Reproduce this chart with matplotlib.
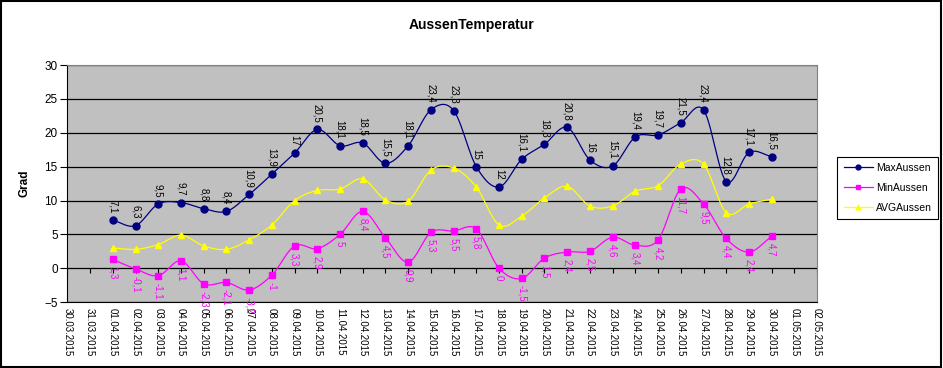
import numpy as np
import pandas as pd
import matplotlib
matplotlib.use('Agg')
import matplotlib.pyplot as plt
from matplotlib.patches import Rectangle

plt.rcParams['font.family'] = ['Liberation Sans', 'DejaVu Sans']

# axis dates 30.03.2015 .. 02.05.2015, data 01.04 .. 30.04
axis_dates = pd.date_range('2015-03-30', '2015-05-02', freq='D')
tick_labels = [d.strftime('%d.%m.%Y') for d in axis_dates]
data_dates = pd.date_range('2015-04-01', '2015-04-30', freq='D')

max_aussen = [7.1, 6.3, 9.5, 9.7, 8.8, 8.4, 10.9, 13.9, 17, 20.5, 18.1, 18.5, 15.5, 18.1, 23.4,
              23.3, 15, 12, 16.1, 18.3, 20.8, 16, 15.1, 19.4, 19.7, 21.5, 23.4, 12.8, 17.1, 16.5]
min_aussen = [1.3, -0.1, -1.1, 1.1, -2.3, -2.1, -3.2, -1, 3.3, 2.9, 5, 8.4, 4.5, 0.9, 5.3,
              5.5, 5.8, 0, -1.5, 1.5, 2.4, 2.5, 4.6, 3.4, 4.2, 11.7, 9.5, 4.4, 2.4, 4.7]
avg_aussen = [3.0, 2.8, 3.5, 4.9, 3.3, 2.8, 4.2, 6.4, 10.0, 11.5, 11.7, 13.2, 10.1, 9.9, 14.5,
              14.8, 12.0, 6.4, 7.7, 10.4, 12.1, 9.2, 9.2, 11.4, 12.2, 15.4, 15.4, 8.2, 9.5, 10.2]


def smooth(x, y, n=12):
    # Catmull-Rom curve through the points, like Excel's smoothed line
    x = np.asarray(x, float)
    y = np.asarray(y, float)
    px = np.concatenate([[2 * x[0] - x[1]], x, [2 * x[-1] - x[-2]]])
    py = np.concatenate([[2 * y[0] - y[1]], y, [2 * y[-1] - y[-2]]])
    t = np.linspace(0, 1, n, endpoint=False)
    xs, ys = [], []
    for i in range(1, len(px) - 2):
        for p, out in ((px, xs), (py, ys)):
            p0, p1, p2, p3 = p[i - 1], p[i], p[i + 1], p[i + 2]
            out.extend(0.5 * (2 * p1 + (-p0 + p2) * t + (2 * p0 - 5 * p1 + 4 * p2 - p3) * t ** 2
                              + (-p0 + 3 * p1 - 3 * p2 + p3) * t ** 3))
    xs.append(x[-1])
    ys.append(y[-1])
    return np.array(xs), np.array(ys)


def fmt(v):
    return ('%g' % v).replace('.', ',')


xpos = np.array([axis_dates.get_loc(d) for d in data_dates])
xall = np.arange(len(axis_dates))

fig = plt.figure(figsize=(9.43, 3.68), dpi=100)
ax = fig.add_axes([0.0715, 0.179, 0.795, 0.644])
ax.set_facecolor('#c0c0c0')

for yv in range(-5, 31, 5):
    ax.axhline(yv, color='black', lw=0.9, zorder=1)

series = [
    (max_aussen, '#000080', 'o', 5, 'MaxAussen'),
    (min_aussen, '#ff00ff', 's', 5, 'MinAussen'),
    (avg_aussen, '#ffff00', '^', 5, 'AVGAussen'),
]
for vals, col, mk, ms, lab in series:
    sx, sy = smooth(xpos, vals)
    ax.plot(sx, sy, color=col, lw=0.9, zorder=3)
    ax.plot(xpos, vals, linestyle='none', marker=mk, color=col, ms=ms, zorder=4)
    ax.plot([], [], color=col, marker=mk, ms=3.5, lw=0.9, label=lab)

for x, v in zip(xpos, max_aussen):
    ax.annotate(fmt(v), (x, v), xytext=(0, 5), textcoords='offset points',
                rotation=-90, ha='center', va='bottom', fontsize=7, color='black', zorder=5)
for x, v in zip(xpos, min_aussen):
    ax.annotate(fmt(v), (x, v), xytext=(0, -5), textcoords='offset points',
                rotation=-90, ha='center', va='top', fontsize=7, color='#ff00ff', zorder=5)

# category axis tick marks at y = 0
ax.vlines(xall, -0.7, 0, color='black', lw=0.8, zorder=2)

ax.set_xlim(0, len(axis_dates) - 1)
ax.set_ylim(-5, 30)
ax.set_yticks(range(-5, 31, 5))
ax.set_xticks(xall)
ax.set_xticklabels(tick_labels, rotation=-90, fontsize=7)
ax.tick_params(axis='x', length=0, pad=4)
ax.tick_params(axis='y', direction='out', length=5, width=0.8, labelsize=8.5, pad=2)

for s in ('top', 'right'):
    ax.spines[s].set_color('#808080')
ax.spines['left'].set_color('black')
ax.spines['bottom'].set_color('black')

ax.set_ylabel('Grad', fontsize=8.5, fontweight='bold', labelpad=10)
fig.text(0.5, 0.932, 'AussenTemperatur', ha='center', va='center', fontsize=10, fontweight='bold')

leg = ax.legend(loc='upper left', bbox_to_anchor=(1.02, 0.635), fontsize=7.5, frameon=True,
                fancybox=False, edgecolor='black', framealpha=1, handlelength=2.8,
                borderpad=0.6, labelspacing=0.95, handletextpad=0.3)
leg.get_frame().set_linewidth(0.8)

fig.patches.append(Rectangle((0.001, 0.002), 0.997, 0.995, transform=fig.transFigure,
                             fill=False, edgecolor='black', lw=1.5))

fig.savefig('out.png', dpi=100)
